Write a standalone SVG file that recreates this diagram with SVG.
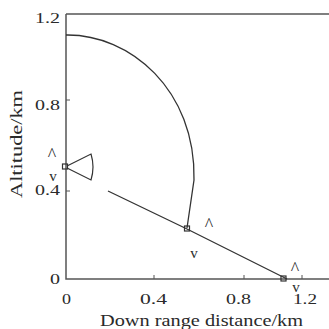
<svg xmlns="http://www.w3.org/2000/svg" width="329" height="329" viewBox="0 0 329 329">
<style>
.ax{stroke:#555;stroke-width:1.5;fill:none}
.tk{stroke:#555;stroke-width:1;fill:none}
.ln{stroke:#333;stroke-width:1.3;fill:none}
.mk{stroke:#333;stroke-width:1.2;fill:none}
text{font-family:"Liberation Serif","Times New Roman",serif;fill:#2a2a2a}
.t{font-size:15.5px}
.ttl{font-size:16px}
.c{font-size:18px}
.v{font-size:15px}
</style>
<rect width="329" height="329" fill="#fff"/>
<g id="axes">
<path class="ax" d="M66,14 V279 H329"/>
<path class="ax" d="M66,14 H329" stroke="#999"/>
<path class="tk" d="M66,100 h4 M66,191 h4 M154,279 v-4 M244,279 v-4 M302,279 v-4"/>
<text class="t" x="35" y="23" textLength="25" lengthAdjust="spacingAndGlyphs">1.2</text>
<text class="t" x="35" y="110" textLength="25" lengthAdjust="spacingAndGlyphs">0.8</text>
<text class="t" x="35" y="195" textLength="25" lengthAdjust="spacingAndGlyphs">0.4</text>
<text class="t" x="50" y="284" textLength="10" lengthAdjust="spacingAndGlyphs">0</text>
<text class="t" x="62" y="304" textLength="9" lengthAdjust="spacingAndGlyphs">0</text>
<text class="t" x="140" y="304" textLength="27" lengthAdjust="spacingAndGlyphs">0.4</text>
<text class="t" x="226" y="304" textLength="25" lengthAdjust="spacingAndGlyphs">0.8</text>
<text class="t" x="293" y="304" textLength="24" lengthAdjust="spacingAndGlyphs">1.2</text>
<text class="ttl" x="100" y="326" textLength="203" lengthAdjust="spacingAndGlyphs">Down range distance/km</text>
<text class="ttl" x="0" y="0" textLength="108" lengthAdjust="spacingAndGlyphs" transform="translate(22,198) rotate(-90)">Altitude/km</text>
</g>
<g id="connectors">
<path class="ln" d="M66,35 C130,34 196,90 194,180 L187,228"/>
<path class="ln" d="M108,191 L187,229 L287,279"/>
</g>
<g id="node-start">
<rect class="mk" x="62.5" y="164" width="5" height="5"/>
<path class="mk" d="M67,166 L91,154 Q95,167 91,180 L67,168"/>
<text class="c" x="52" y="161" text-anchor="middle">^</text>
<text class="v" x="53" y="181" text-anchor="middle">v</text>
</g>
<g id="node-mid">
<rect class="mk" x="184.5" y="226" width="5" height="5"/>
<text class="c" x="209" y="231" text-anchor="middle">^</text>
<text class="v" x="194" y="258" text-anchor="middle">v</text>
</g>
<g id="node-end">
<rect class="mk" x="281" y="276" width="5" height="5"/>
<text class="c" x="295" y="275" text-anchor="middle">^</text>
<text class="v" x="296" y="292" text-anchor="middle">v</text>
</g>
</svg>
